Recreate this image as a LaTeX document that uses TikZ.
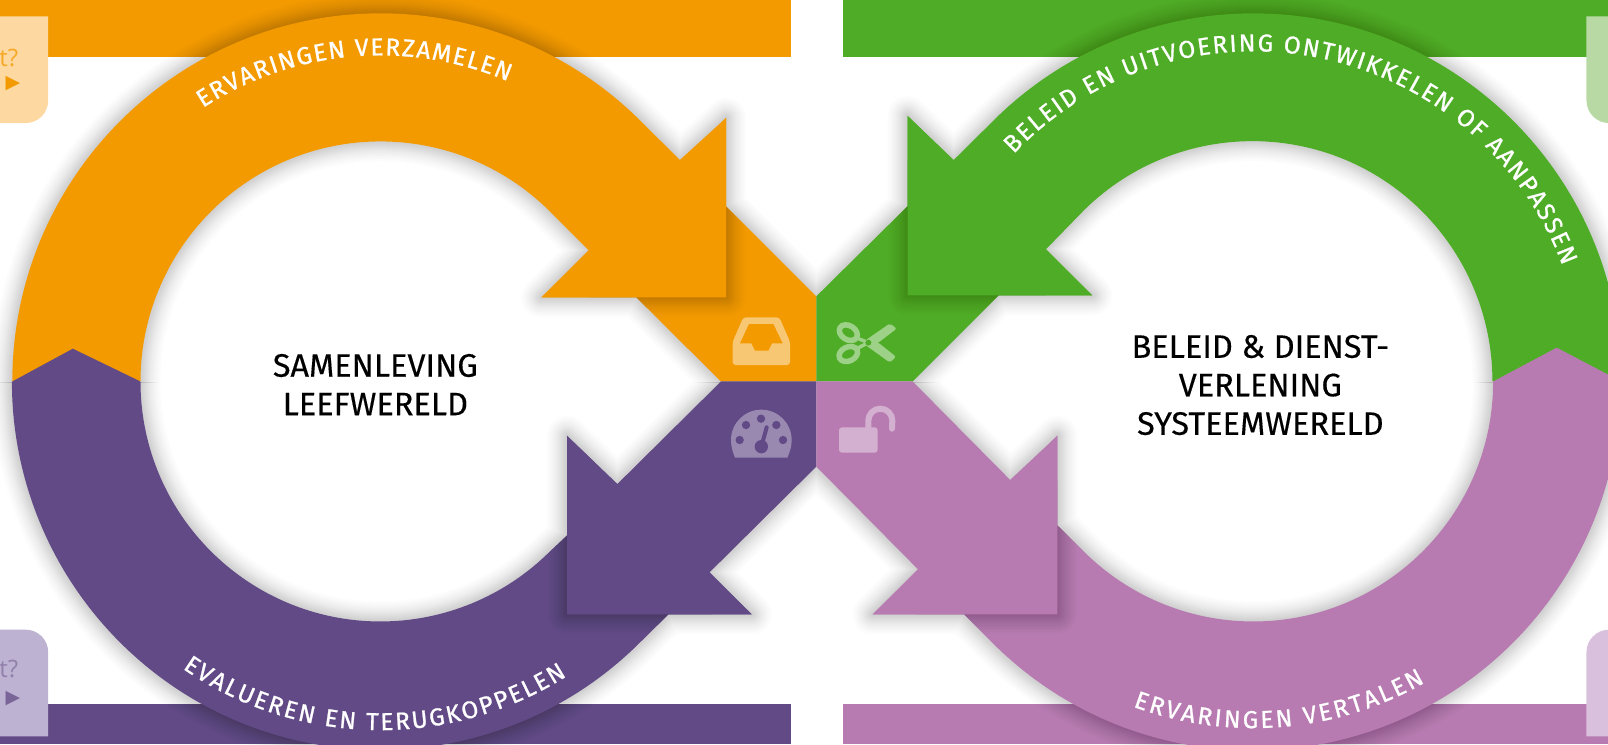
\documentclass[tikz,border=0pt]{standalone}
\usepackage{fontspec}
\usetikzlibrary{decorations.text}
\setmainfont{Fira Sans}
\newfontfamily\tabfont{Open Sans}
\newfontfamily\symfont{DejaVu Sans}
\newfontfamily\arcfont[FakeBold=0.9]{Fira Sans}
\newfontfamily\titlefont[FakeBold=0.3]{Fira Sans}
\definecolor{oranje}{HTML}{F39A00}
\definecolor{groen}{HTML}{4FAC26}
\definecolor{paars}{HTML}{624A86}
\definecolor{mauve}{HTML}{B77BB1}
\definecolor{oranjelt}{HTML}{FDD8A0}
\definecolor{groenlt}{HTML}{B9D9A4}
\definecolor{paarslt}{HTML}{BDB2D2}
\definecolor{mauvelt}{HTML}{D9C0DD}
\def\orangepath{(12,-372) arc[start angle=180,end angle=46.2,radius=359] -- (663,-156) -- (708,-115) -- (708,-201) -- (796,-289) -- (796,-372) -- (703,-372) -- (620.5,-290) -- (528,-290) -- (574,-244) -- (535,-205) arc[start angle=45.5,end angle=180,radius=234] -- cycle}
\def\purplepath{(12,-372) -- (71,-340) -- (137,-372) arc[start angle=180,end angle=315,radius=234] -- (553,-522) -- (553,-425) -- (602,-472) -- (703,-372) -- (796,-372) -- (796,-455) -- (692,-558) -- (733,-599) -- (652,-599) -- (620,-630.5) arc[start angle=314,end angle=180,radius=359] -- cycle}
\def\greenpath{(1581,-372) arc[start angle=0,end angle=133.8,radius=359] -- (930,-156) -- (885,-113) -- (885,-201) -- (796,-289) -- (796,-372) -- (890,-372) -- (974,-288) -- (1065,-288) -- (1020,-243) -- (1057,-205) arc[start angle=134.6,end angle=0,radius=234] -- cycle}
\def\mauvepath{(1581,-372) -- (1518,-339) -- (1456,-372) arc[start angle=0,end angle=-135,radius=234] -- (1031,-512) -- (1031,-425) -- (985,-468) -- (890,-372) -- (796,-372) -- (796,-455) -- (895,-555) -- (851,-599) -- (940,-599) -- (973,-632) arc[start angle=226.2,end angle=360,radius=359] -- cycle}
\newcommand\softshadow[1]{\foreach \w in {2,4,6,8,10,12,14,16,18,20,23,26,29,32,36,40}{\path[draw=black,draw opacity=.0135,line width=\w*1pt,line join=round] #1;}}
\tikzset{
  arclabel/.style={decorate,decoration={text along path,text align=fit to path,text={|\arcfont\fontsize{24.5}{24.5}\selectfont\color{white}|#1}}},
  title/.style={font=\titlefont\fontsize{32.5}{38.5}\selectfont,align=center,text=black,inner sep=0pt}
}
\begin{document}
\begin{tikzpicture}[x=1.02551pt,y=1.02551pt]
\useasboundingbox (0,0) rectangle (1568,-725.5);
\clip (0,0) rectangle (1568,-725.5);
% bars
\fill[oranje] (0,0) rectangle (771,-56);
\fill[groen] (822,0) rectangle (1568,-56);
\fill[paars] (0,-686) rectangle (771,-725.5);
\fill[mauve] (822,-686) rectangle (1568,-725.5);
% tabs
\fill[oranjelt] (0,-16) -- (47,-16) -- (47,-98) arc[start angle=0,end angle=-90,radius=22] -- (0,-120) -- cycle;
\fill[groenlt] (1568,-16) -- (1547,-16) -- (1547,-98) arc[start angle=180,end angle=270,radius=22] -- (1568,-120) -- cycle;
\fill[paarslt] (0,-718) -- (47,-718) -- (47,-636) arc[start angle=0,end angle=90,radius=22] -- (0,-614) -- cycle;
\fill[mauvelt] (1568,-718) -- (1547,-718) -- (1547,-636) arc[start angle=180,end angle=90,radius=22] -- (1568,-614) -- cycle;
\node[anchor=east,inner sep=0pt,text=oranje!85!white,font=\tabfont\fontsize{24}{24}\selectfont] (tabo) at (18,-57) {t?};
\node[inner sep=0pt,text=oranje,font=\symfont\fontsize{19}{19}\selectfont] (tabop) at (12.5,-81) {▶};
\node[anchor=east,inner sep=0pt,text=paars!70!white,font=\tabfont\fontsize{24}{24}\selectfont] (tabp) at (18,-652) {t?};
\node[inner sep=0pt,text=paars!85!white,font=\symfont\fontsize{19}{19}\selectfont] (tabpp) at (12.5,-681) {▶};
% soft shadows, each kept to its own quadrant so they do not add up at the seams
\begin{scope}\clip (-20,20) rectangle (795.7,-372.5); \softshadow{\orangepath}\end{scope}
\begin{scope}\clip (795.7,20) rectangle (1600,-372.5); \softshadow{\greenpath}\end{scope}
\begin{scope}\clip (-20,-372.5) rectangle (795.7,-760); \softshadow{\purplepath}\end{scope}
\begin{scope}\clip (795.7,-372.5) rectangle (1600,-760); \softshadow{\mauvepath}\end{scope}
% rings
\fill[oranje] \orangepath;
\fill[groen] \greenpath;
\fill[paars] \purplepath;
\fill[mauve] \mauvepath;
% shadow of each arrowhead on its own band
\begin{scope}\clip \orangepath; \clip (663,-157) -- (574,-244) -- (574,-380) -- (810,-380) -- (810,-157) -- cycle;
\softshadow{(708,-115) -- (708,-290) -- (528,-290)}\end{scope}
\begin{scope}\clip \greenpath; \clip (930,-156) -- (1020,-243) -- (1020,-380) -- (780,-380) -- (780,-156) -- cycle;
\softshadow{(885,-113) -- (885,-288) -- (1065,-288)}\end{scope}
\begin{scope}\clip \purplepath; \clip (602,-472) -- (692,-558) -- (700,-700) -- (450,-700) -- (450,-470) -- cycle;
\softshadow{(553,-425) -- (553,-599) -- (733,-599)}\end{scope}
\begin{scope}\clip \mauvepath; \clip (985,-468) -- (895,-555) -- (890,-700) -- (1150,-700) -- (1150,-470) -- cycle;
\softshadow{(1031,-425) -- (1031,-599) -- (851,-599)}\end{scope}
\fill[oranje] (708,-115) -- (708,-290) -- (528,-290) -- cycle;
\fill[groen] (885,-113) -- (885,-288) -- (1065,-288) -- cycle;
\fill[paars] (553,-425) -- (553,-599) -- (733,-599) -- cycle;
\fill[mauve] (1031,-425) -- (1031,-599) -- (851,-599) -- cycle;
% arc labels
\path[arclabel={ERVARINGEN VERZAMELEN}] (371,-372) ++(123:318) arc[start angle=123,end angle=67,radius=318];
\path[arclabel={BELEID EN UITVOERING ONTWIKKELEN OF AANPASSEN}] (1222,-372) ++(136.5:322) arc[start angle=136.5,end angle=20.5,radius=322];
\path[arclabel={EVALUEREN EN TERUGKOPPELEN}] (371,-372) ++(235.4:340) arc[start angle=235.4,end angle=302.3,radius=340];
\path[arclabel={ERVARINGEN VERTALEN}] (1222,-372) ++(249.7:338) arc[start angle=249.7,end angle=299.7,radius=338];
% titles
\node[title] (samen) at (366,-375) {SAMENLEVING\\LEEFWERELD};
\node[title] (beleid) at (1229,-375.5) {BELEID \& DIENST-\\VERLENING\\SYSTEEMWERELD};
% icons (units: thirds of a pixel)
\begin{scope}[x=0.33333pt,y=-0.33333pt,shift={(710pt,-300pt)}]
% inbox
\fill[fill=oranje!55!white,rounded corners=3pt] (100,52) -- (208,52) -- (240,125) -- (240,195) -- (68,195) -- (68,125) -- cycle;
\fill[oranje] (117,72) -- (190,72) -- (218,130) -- (186,130) -- (175,152) -- (135,152) -- (124,130) -- (90,130) -- cycle;
% scissors
\fill[groen!55!white,rounded corners=2pt] (465,122) -- (540,70) -- (560,86) -- (505,128) -- (480,140) -- cycle;
\fill[groen!55!white,rounded corners=2pt] (465,134) -- (540,188) -- (558,170) -- (505,128) -- (480,116) -- cycle;
\draw[groen!55!white,line width=3.5pt] (438,113) -- (475,128) -- (438,147);
\draw[groen!55!white,line width=5.5pt,shift={(415,98)},rotate=-32] (0,0) ellipse[x radius=29,y radius=21];
\draw[groen!55!white,line width=5.5pt,shift={(415,162)},rotate=25] (0,0) ellipse[x radius=29,y radius=21];
\fill[groen] (475,128) circle[radius=9];
% gauge
\fill[paars!65!white] (75,473) .. controls (68,455) and (63,440) .. (63,420) arc[start angle=180,end angle=360,radius=91] .. controls (245,440) and (240,455) .. (232,473) -- cycle;
\foreach \a/\b in {153/356,108/375,199/375,89/420,219/420}{\fill[paars] (\a,\b) circle[radius=12.5];}
\fill[paars] (154,440) circle[radius=20];
\draw[paars,line width=4pt,line cap=round] (154,440) -- (170,382);
% padlock
\fill[mauve!60!white,rounded corners=3pt] (387,382) rectangle (503,458);
\draw[mauve!60!white,line width=6pt,line cap=round] (475,385) -- (475,362) arc[start angle=180,end angle=360,radius=36] -- (546,386);
\end{scope}
\end{tikzpicture}
\end{document}
